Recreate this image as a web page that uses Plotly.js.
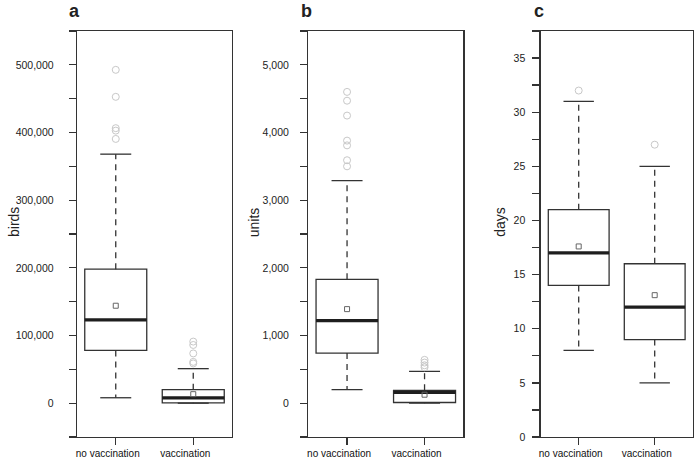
<!DOCTYPE html>
<html>
<head>
<meta charset="utf-8">
<script src="https://cdn.plot.ly/plotly-3.0.1.min.js"></script>
<style>html,body{margin:0;padding:0;background:#fff;}#chart{width:697px;height:459px;}</style>
</head>
<body>
<div id="chart"></div>
<script>
// ---------- data ----------
const categories = ["no vaccination", "vaccination"];

// panel a: birds
const birdsQ1 = [78000, 500];
const birdsMedian = [123000, 7800];
const birdsQ3 = [198000, 20000];
const birdsLowerWhisker = [8000, 0];
const birdsUpperWhisker = [368000, 51000];
const birdsMean = [144000, 13300];
const birdsOutliersNoVacc = [390500, 402800, 406400, 452700, 492600];
const birdsOutliersVacc = [58700, 61000, 73500, 86000, 91000];

// panel b: units
const unitsQ1 = [740, 10];
const unitsMedian = [1220, 160];
const unitsQ3 = [1830, 190];
const unitsLowerWhisker = [200, 0];
const unitsUpperWhisker = [3290, 470];
const unitsMean = [1390, 125];
const unitsOutliersNoVacc = [3500, 3590, 3810, 3880, 4250, 4470, 4600];
const unitsOutliersVacc = [530, 560, 600, 640];

// panel c: days
const daysQ1 = [14, 9];
const daysMedian = [17, 12];
const daysQ3 = [21, 16];
const daysLowerWhisker = [8, 5];
const daysUpperWhisker = [31, 25];
const daysMean = [17.6, 13.1];
const daysOutliersNoVacc = [32];
const daysOutliersVacc = [27];

const panelLetters = ["a", "b", "c"];
const yTitles = ["birds", "units", "days"];

// ---------- styling ----------
const FONT = "Liberation Sans, Arial, Helvetica, sans-serif";
const INK = "#333333";
const BOXW = 0.8, CAPW = 0.4;
const xs = [0, 1];

function panelTraces(xa, ya, q1, med, q3, lo, hi, mean, outNo, outVac) {
  const tr = [];
  // box body (whiskers drawn separately)
  tr.push({
    type: "box", xaxis: xa, yaxis: ya, x: xs,
    q1: q1, median: med, q3: q3, lowerfence: q1, upperfence: q3,
    width: BOXW, whiskerwidth: 0, boxpoints: false,
    fillcolor: "#ffffff", line: {color: INK, width: 1.3},
    hoverinfo: "skip", showlegend: false
  });
  // dashed whiskers
  const wx = [], wy = [];
  xs.forEach((x, i) => { wx.push(x, x, null, x, x, null); wy.push(q3[i], hi[i], null, q1[i], lo[i], null); });
  tr.push({type: "scatter", mode: "lines", xaxis: xa, yaxis: ya, x: wx, y: wy,
    line: {color: INK, width: 1.3, dash: "6px,5px"}, hoverinfo: "skip", showlegend: false});
  // caps
  const cx = [], cy = [];
  xs.forEach((x, i) => {
    cx.push(x - CAPW / 2, x + CAPW / 2, null, x - CAPW / 2, x + CAPW / 2, null);
    cy.push(hi[i], hi[i], null, lo[i], lo[i], null);
  });
  tr.push({type: "scatter", mode: "lines", xaxis: xa, yaxis: ya, x: cx, y: cy,
    line: {color: INK, width: 1.3}, hoverinfo: "skip", showlegend: false});
  // thick median
  const mx = [], my = [];
  xs.forEach((x, i) => { mx.push(x - BOXW / 2, x + BOXW / 2, null); my.push(med[i], med[i], null); });
  tr.push({type: "scatter", mode: "lines", xaxis: xa, yaxis: ya, x: mx, y: my,
    line: {color: "#1e1e1e", width: 3.2}, hoverinfo: "skip", showlegend: false});
  // means
  tr.push({type: "scatter", mode: "markers", xaxis: xa, yaxis: ya, x: xs, y: mean,
    marker: {symbol: "square-open", size: 5, color: "#666666", line: {width: 1}},
    hoverinfo: "skip", showlegend: false});
  // outliers
  tr.push({type: "scatter", mode: "markers", xaxis: xa, yaxis: ya,
    x: outNo.map(() => xs[0]).concat(outVac.map(() => xs[1])),
    y: outNo.concat(outVac),
    marker: {symbol: "circle-open", size: 7, color: "#c8c8c8", line: {width: 1}},
    hoverinfo: "skip", showlegend: false});
  return tr;
}

const data = []
  .concat(panelTraces("x", "y", birdsQ1, birdsMedian, birdsQ3, birdsLowerWhisker, birdsUpperWhisker, birdsMean, birdsOutliersNoVacc, birdsOutliersVacc))
  .concat(panelTraces("x2", "y2", unitsQ1, unitsMedian, unitsQ3, unitsLowerWhisker, unitsUpperWhisker, unitsMean, unitsOutliersNoVacc, unitsOutliersVacc))
  .concat(panelTraces("x3", "y3", daysQ1, daysMedian, daysQ3, daysLowerWhisker, daysUpperWhisker, daysMean, daysOutliersNoVacc, daysOutliersVacc));

function xAxis(domain, anchor) {
  return {
    domain: domain, anchor: anchor, range: [-0.5, 1.5],
    tickmode: "array", tickvals: xs, ticktext: categories,
    ticks: "outside", ticklen: 7, tickwidth: 1.3, tickcolor: INK,
    showline: true, mirror: true, linecolor: INK, linewidth: 1.3,
    showgrid: false, zeroline: false, ticklabelshift: -8, ticklabelstandoff: 0,
    tickfont: {family: FONT, size: 10, color: "#111"}, fixedrange: true
  };
}
function yAxis(anchor, range, dtick, minor, standoff) {
  return {
    anchor: anchor, range: range, tick0: 0, dtick: dtick, tickformat: ",d",
    ticks: "outside", ticklen: 7, tickwidth: 1.3, tickcolor: INK,
    minor: {tick0: 0, dtick: minor, ticks: "outside", ticklen: 7, tickwidth: 1.3, tickcolor: INK, showgrid: false},
    showline: true, mirror: true, linecolor: INK, linewidth: 1.3,
    showgrid: false, zeroline: false, ticklabelstandoff: standoff,
    tickfont: {family: FONT, size: 10.5, color: "#222"}, fixedrange: true
  };
}

const W = 616;
const dA = [0, 155 / W], dB = [231.3 / W, 386.3 / W], dC = [463.7 / W, 615.7 / W];

const annotations = [];
const axPairs = [["x", "y", -3, -63], ["x2", "y2", -2, -54], ["x3", "y3", -2, -41]];
axPairs.forEach((p, i) => {
  annotations.push({
    text: "<b>" + panelLetters[i] + "</b>", xref: p[0] + " domain", yref: "paper",
    x: 0, y: 1, xanchor: "center", yanchor: "bottom", xshift: p[2], yshift: 8,
    showarrow: false, font: {family: FONT, size: 18, color: "#222"}
  });
  annotations.push({
    text: yTitles[i], xref: p[0] + " domain", yref: p[1] + " domain",
    x: 0, y: 0.5, xanchor: "center", yanchor: "middle", xshift: p[3], yshift: 12,
    textangle: -90, showarrow: false, font: {family: FONT, size: 14, color: "#222"}
  });
});

const layout = {
  width: 697, height: 459,
  margin: {l: 77, r: 4, t: 31, b: 22},
  paper_bgcolor: "#ffffff", plot_bgcolor: "#ffffff",
  showlegend: false,
  font: {family: FONT, color: INK},
  xaxis: xAxis(dA, "y"), xaxis2: xAxis(dB, "y2"), xaxis3: xAxis(dC, "y3"),
  yaxis: yAxis("x", [-50000, 550000], 100000, 50000, 13),
  yaxis2: yAxis("x2", [-500, 5500], 1000, 500, 9),
  yaxis3: yAxis("x3", [0, 37.5], 5, 2.5, 5),
  annotations: annotations
};

Plotly.newPlot("chart", data, layout, {staticPlot: true, displayModeBar: false});
</script>
</body>
</html>
